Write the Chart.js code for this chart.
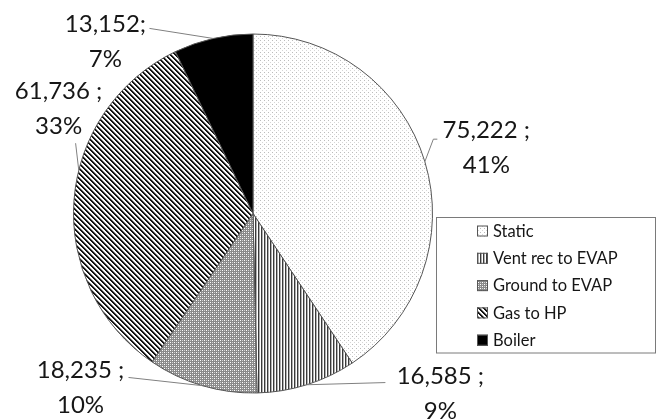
<!DOCTYPE html>
<html>
<head>
<meta charset="utf-8">
<script src="https://cdn.jsdelivr.net/npm/chart.js@4.4.1/dist/chart.umd.min.js"></script>
<style>
  html, body { margin: 0; padding: 0; background: #ffffff; }
  #wrap { width: 657px; height: 420px; }
</style>
</head>
<body>
<div id="wrap"><canvas id="pieChart" width="657" height="420"></canvas></div>
<script>
// data
const categories = ['Static', 'Vent rec to EVAP', 'Ground to EVAP', 'Gas to HP', 'Boiler'];
const values = [75222, 16585, 18235, 61736, 13152];
const separators = [' ;', ' ;', ' ;', ' ;', ';'];

// label placement (offset of label block from pie centre, in radius units)
const labelOffsets = [[1.300, -0.364], [1.044, 1.006], [-0.961, 0.972], [-1.083, -0.581], [-0.822, -0.956]];
// where the leader line meets the label block, in px from block centre
const leaderEnds = [[-53, -9], [-55, -11.5], [48, -10.5], [17, 34], [44, -13.5]];
// where along the slice the leader line starts (0..1)
const anchorFracs = [0.5, 0.5, 0.5, 0.58, 0.5];

function makePattern(size, draw) {
    const c = document.createElement('canvas');
    c.width = size;
    c.height = size;
    const g = c.getContext('2d');
    g.fillStyle = '#ffffff';
    g.fillRect(0, 0, size, size);
    draw(g, size);
    return g.createPattern(c, 'repeat');
}

function px(g, x, y, col) {
    g.fillStyle = col;
    g.fillRect(x, y, 1, 1);
}

const ctx = document.getElementById('pieChart').getContext('2d');

// Static: fine light dots
const dotPattern = makePattern(4, (g) => {
    px(g, 0, 0, '#bcbcbc');
    px(g, 2, 2, '#d6d6d6');
});
// Vent rec: vertical lines
const vertPattern = makePattern(3, (g, s) => {
    g.fillStyle = '#3a3a3a';
    g.fillRect(0, 0, 1, s);
    g.fillStyle = '#b0b0b0';
    g.fillRect(1, 0, 1, s);
});
// Ground: small checker
const checkPattern = makePattern(4, (g) => {
    g.fillStyle = '#8a8a8a';
    g.fillRect(0, 0, 4, 4);
    px(g, 0, 0, '#ffffff');
    px(g, 2, 2, '#ffffff');
    px(g, 2, 0, '#d0d0d0');
    px(g, 0, 2, '#d0d0d0');
});
// Gas to HP: wide downward diagonal stripes
const diagPattern = makePattern(5, (g, s) => {
    for (let y = 0; y < s; y++) {
        for (let x = 0; x < s; x++) {
            const k = ((x - y) % s + s) % s;
            if (k < 2) px(g, x, y, '#141414');
            else if (k === 2) px(g, x, y, '#9a9a9a');
        }
    }
});

const fills = [dotPattern, vertPattern, checkPattern, diagPattern, '#000000'];

const total = values.reduce((a, b) => a + b, 0);

const labelPlugin = {
    id: 'outsideLabels',
    afterDatasetsDraw(chart) {
        const c = chart.ctx;
        const meta = chart.getDatasetMeta(0);
        c.save();
        meta.data.forEach((arc, i) => {
            const p = arc.getProps(['x', 'y', 'startAngle', 'endAngle', 'outerRadius'], true);
            const a = p.startAngle + (p.endAngle - p.startAngle) * anchorFracs[i];
            const ex = p.x + p.outerRadius * Math.cos(a);
            const ey = p.y + p.outerRadius * Math.sin(a);
            const cx = p.x + labelOffsets[i][0] * p.outerRadius;
            const cy = p.y + labelOffsets[i][1] * p.outerRadius;
            const lx = cx + leaderEnds[i][0];
            const ly = cy + leaderEnds[i][1];

            c.strokeStyle = '#808080';
            c.lineWidth = 1;
            c.beginPath();
            c.moveTo(ex, ey);
            c.lineTo(lx, ly);
            if (i === 0) c.lineTo(lx + 4, ly);
            c.stroke();

            const pct = Math.round(values[i] / total * 100) + '%';
            c.fillStyle = '#161616';
            c.font = '24px Lato';
            c.textAlign = 'center';
            c.textBaseline = 'middle';
            c.fillText(values[i].toLocaleString('en-US') + separators[i], cx, cy - 17.5);
            c.fillText(pct, cx, cy + 17.5);
        });
        c.restore();
    }
};

const legendPlugin = {
    id: 'boxLegend',
    afterDraw(chart) {
        const c = chart.ctx;
        c.save();
        c.strokeStyle = '#7a7a7a';
        c.lineWidth = 1;
        c.strokeRect(436.5, 217.5, 219, 135.5);
        c.font = '16.5px Lato';
        c.textAlign = 'left';
        c.textBaseline = 'middle';
        categories.forEach((name, i) => {
            const yc = 231 + i * 27.3;
            c.fillStyle = fills[i];
            c.fillRect(477, yc - 5.5, 11, 11);
            c.strokeStyle = '#555555';
            c.strokeRect(477.5, yc - 5, 10, 10);
            c.fillStyle = '#161616';
            c.fillText(name, 493, yc + 0.5);
        });
        c.restore();
    }
};

new Chart(ctx, {
    type: 'pie',
    data: {
        labels: categories,
        datasets: [{
            data: values,
            backgroundColor: fills,
            borderColor: '#555555',
            borderWidth: 1
        }]
    },
    options: {
        responsive: false,
        animation: false,
        layout: {
            padding: { left: 73, right: 224, top: 33.5, bottom: 26.5 }
        },
        plugins: {
            legend: { display: false },
            tooltip: { enabled: false }
        }
    },
    plugins: [labelPlugin, legendPlugin]
});
</script>
</body>
</html>
